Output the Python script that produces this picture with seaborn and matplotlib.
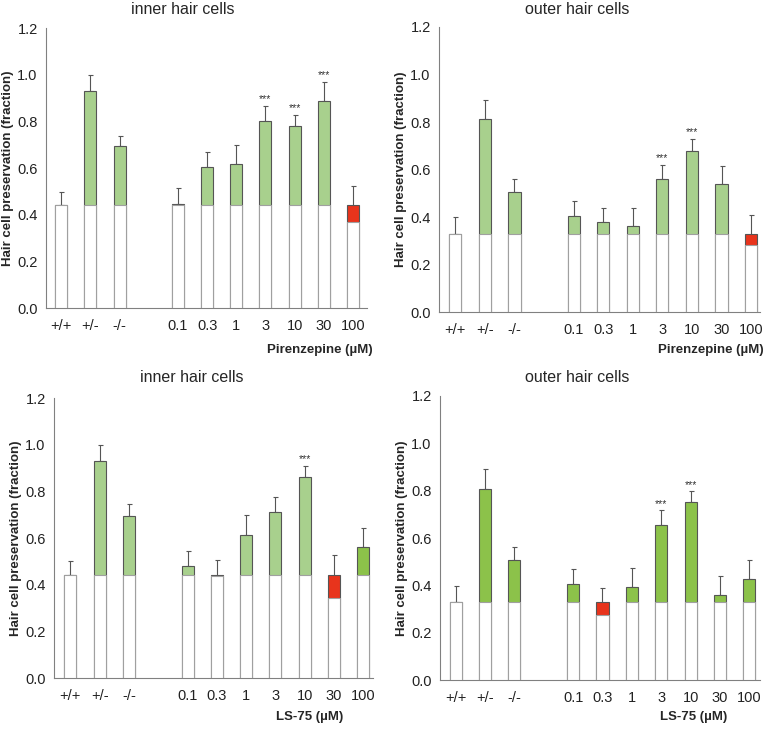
import numpy as np
import pandas as pd
import matplotlib
matplotlib.use("Agg")
import matplotlib.pyplot as plt
import seaborn as sns

sns.set_theme(style="white")
plt.rcParams['font.family'] = ['Liberation Sans', 'DejaVu Sans']

# categories (one empty slot separates genotypes from doses)
genotypes = ["+/+", "+/-", "-/-"]
doses = ["0.1", "0.3", "1", "3", "10", "30", "100"]
bar_labels = genotypes + doses
slots = genotypes + [" "] + doses

# pirenzepine, inner hair cells
pir_inner = [0.44, 0.931, 0.694, 0.447, 0.604, 0.616, 0.80, 0.78, 0.886, 0.367]
pir_inner_err = [0.056, 0.066, 0.045, 0.066, 0.063, 0.083, 0.066, 0.049, 0.083, 0.154]
pir_inner_sig = ["3", "10", "30"]

# pirenzepine, outer hair cells
pir_outer = [0.33, 0.811, 0.507, 0.406, 0.379, 0.363, 0.559, 0.68, 0.537, 0.284]
pir_outer_err = [0.068, 0.08, 0.054, 0.063, 0.061, 0.077, 0.062, 0.049, 0.077, 0.125]
pir_outer_sig = ["3", "10"]

# LS-75, inner hair cells
ls_inner = [0.443, 0.932, 0.695, 0.482, 0.436, 0.614, 0.713, 0.862, 0.342, 0.561]
ls_inner_err = [0.057, 0.068, 0.049, 0.064, 0.068, 0.083, 0.062, 0.047, 0.184, 0.082]
ls_inner_sig = ["10"]

# LS-75, outer hair cells
ls_outer = [0.331, 0.808, 0.506, 0.406, 0.275, 0.392, 0.656, 0.752, 0.361, 0.426]
ls_outer_err = [0.065, 0.082, 0.054, 0.062, 0.115, 0.08, 0.062, 0.045, 0.078, 0.08]
ls_outer_sig = ["3", "10"]

# wild-type reference levels
inner_base = 0.44
outer_base = 0.33

LIGHT = "#a8d08d"
DARK = "#8cc24a"
RED = "#e8341c"
EDGE = "#555555"
AXIS = "#808080"

W, H = 770, 729
fig = plt.figure(figsize=(W / 100, H / 100), dpi=100)


def px_axes(left, right, top, bottom):
    return fig.add_axes([left / W, 1 - bottom / H, (right - left) / W, (bottom - top) / H])


def draw_panel(ax, values, errs, base, sig, green, dark_labels, xlim):
    df = pd.DataFrame({"slot": bar_labels, "value": values, "err": errs})
    df["top"] = np.maximum(df["value"], base)
    df["low"] = np.minimum(df["value"], base)
    colors = {}
    for lab, v in zip(df["slot"], df["value"]):
        if v < base - 0.001:
            colors[lab] = RED
        elif lab in dark_labels:
            colors[lab] = DARK
        else:
            colors[lab] = green
    xpos = np.array([slots.index(s) for s in df["slot"]])
    ax.errorbar(xpos, df["value"], yerr=[np.zeros(len(df)), df["err"]], fmt="none",
                ecolor=EDGE, elinewidth=0.8, capsize=1.8, capthick=0.8, zorder=1)
    sns.barplot(data=df, x="slot", y="top", hue="slot", palette=colors, order=slots,
                dodge=False, legend=False, width=0.41, saturation=1, errorbar=None,
                edgecolor=EDGE, linewidth=0.8, ax=ax, zorder=2)
    sns.barplot(data=df, x="slot", y="low", order=slots, color="white", width=0.41,
                saturation=1, errorbar=None, edgecolor="#a0a0a0", linewidth=0.8,
                ax=ax, zorder=3)
    for lab in sig:
        i = bar_labels.index(lab)
        ax.annotate("***", (slots.index(lab), values[i] + errs[i]), xytext=(0, 1),
                    textcoords="offset points", ha="center", va="bottom",
                    fontsize=7.5, color="#333333")
    ax.set_ylim(0, 1.2)
    ax.set_xlim(*xlim)
    ax.set_yticks(np.arange(0, 1.21, 0.2))
    ax.set_yticklabels([f"{t:.1f}" for t in np.arange(0, 1.21, 0.2)], fontsize=10.5)
    ax.set_xticks(range(len(slots)))
    ax.set_xticklabels(slots, fontsize=10.5)
    ax.tick_params(axis="x", length=0, pad=8, colors="#222222")
    ax.tick_params(axis="y", length=3, width=0.8, color=AXIS, direction="out",
                   pad=3, labelcolor="#222222")
    ax.set_xlabel("")
    ax.set_ylabel("Hair cell preservation (fraction)", fontsize=9.5, fontweight="bold",
                  labelpad=2)
    sns.despine(ax=ax)
    for s in ["left", "bottom"]:
        ax.spines[s].set_color(AXIS)
        ax.spines[s].set_linewidth(0.8)


ax1 = px_axes(46, 367, 28, 308)
draw_panel(ax1, pir_inner, pir_inner_err, inner_base, pir_inner_sig, LIGHT, [], (-0.52, 10.48))
ax2 = px_axes(439, 760, 27, 312)
draw_panel(ax2, pir_outer, pir_outer_err, outer_base, pir_outer_sig, LIGHT, [], (-0.55, 10.3))
ax3 = px_axes(54, 373, 398, 678)
draw_panel(ax3, ls_inner, ls_inner_err, inner_base, ls_inner_sig, LIGHT, ["100"], (-0.56, 10.33))
ax4 = px_axes(440, 760, 396, 680)
draw_panel(ax4, ls_outer, ls_outer_err, outer_base, ls_outer_sig, DARK, [], (-0.53, 10.36))


def fig_text(x, y, s, **kw):
    fig.text(x / W, 1 - y / H, s, **kw)


fig_text(183, 9, "inner hair cells", ha="center", va="center", fontsize=11.5)
fig_text(577, 9, "outer hair cells", ha="center", va="center", fontsize=11.5)
fig_text(192, 377, "inner hair cells", ha="center", va="center", fontsize=11.5)
fig_text(577, 377, "outer hair cells", ha="center", va="center", fontsize=11.5)
fig_text(373, 350, "Pirenzepine (µM)", ha="right", va="center", fontsize=9.5, fontweight="bold")
fig_text(764, 350, "Pirenzepine (µM)", ha="right", va="center", fontsize=9.5, fontweight="bold")
fig_text(310, 717, "LS-75 (µM)", ha="center", va="center", fontsize=9.5, fontweight="bold")
fig_text(694, 717, "LS-75 (µM)", ha="center", va="center", fontsize=9.5, fontweight="bold")

fig.savefig("out.png", dpi=100, facecolor="white")
